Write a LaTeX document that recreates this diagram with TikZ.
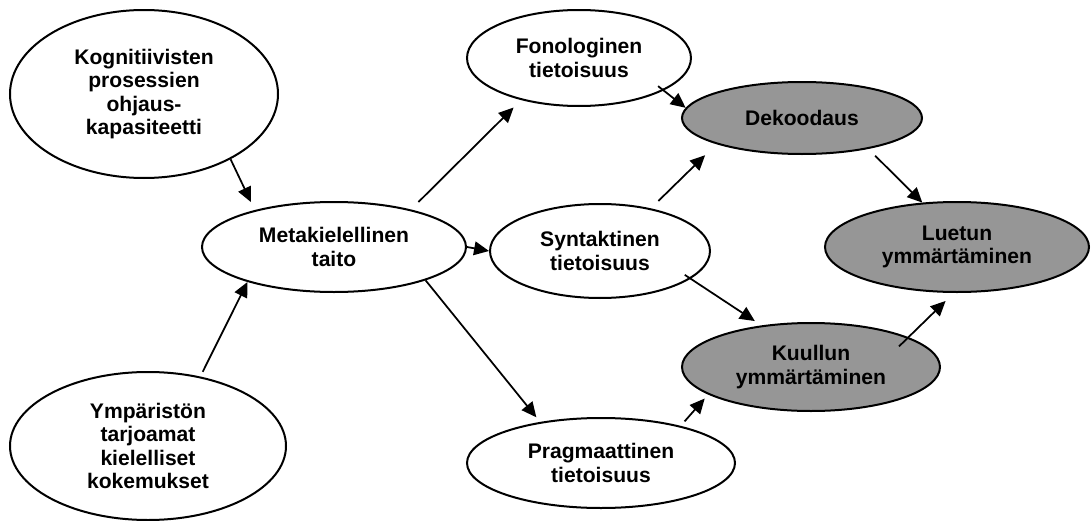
\documentclass[tikz,border=0pt]{standalone}
\usepackage{fontspec}
\setmainfont{Liberation Sans}
\usetikzlibrary{shapes.geometric, arrows.meta}
\definecolor{mygray}{RGB}{150,150,150}
\tikzstyle{concept} = [ellipse, draw=black, fill=white, align=center,
                       inner sep=0pt, line width=0.4mm,
                       font=\bfseries\fontsize{12}{13.3}\selectfont]
\tikzstyle{outcome} = [concept, fill=mygray]
\tikzstyle{arrow} = [line width=0.35mm, -{Triangle[length=8.5pt, width=7.8pt]}]

\begin{document}
\begin{tikzpicture}

        \useasboundingbox (0,0) rectangle (21.84,-10.42);

        \node (Kog) [concept, minimum width=5.36cm, minimum height=3.36cm, xshift=2.88cm, yshift=-1.88cm] {Kognitiivisten\\prosessien\\ohjaus-\\kapasiteetti};

        \node (Ymp) [concept, minimum width=5.52cm, minimum height=2.96cm, xshift=2.96cm, yshift=-8.92cm] {Ympäristön\\tarjoamat\\kielelliset\\kokemukset};

        \node (Meta) [concept, minimum width=5.28cm, minimum height=1.8cm, xshift=6.68cm, yshift=-4.94cm] {Metakielellinen\\taito};

        \node (Fono) [concept, minimum width=4.48cm, minimum height=1.92cm, xshift=11.58cm, yshift=-1.16cm] {Fonologinen\\tietoisuus};

        \node (Syn) [concept, minimum width=4.4cm, minimum height=1.88cm, xshift=12cm, yshift=-5.02cm] {Syntaktinen\\tietoisuus};

        \node (Prag) [concept, minimum width=5.36cm, minimum height=1.8cm, xshift=12.02cm, yshift=-9.26cm] {Pragmaattinen\\tietoisuus};

        \node (Dek) [outcome, minimum width=4.8cm, minimum height=1.44cm, xshift=16.04cm, yshift=-2.36cm] {Dekoodaus};

        \node (Kuul) [outcome, minimum width=5.16cm, minimum height=1.76cm, xshift=16.22cm, yshift=-7.34cm] {Kuullun\\ymmärtäminen};

        \node (Luet) [outcome, minimum width=5.28cm, minimum height=1.8cm, xshift=19.14cm, yshift=-4.94cm] {Luetun\\ymmärtäminen};


        \draw [arrow, shorten >=5pt] (Kog.-37) -- (Meta.155);
        \draw [arrow, shorten <=3pt] (Ymp.53) -- (Meta.202);
        \draw [arrow, shorten <=6pt, shorten >=6pt] (Meta.26) -- (Fono.-144);
        \draw [arrow] (Meta.east) -- (Syn.west);
        \draw [arrow, shorten >=3.4pt] (Meta.-20) -- (Prag.146);
        \draw [arrow, shorten <=-4pt] (Fono.-21) -- (Dek.175);
        \draw [arrow, shorten <=6pt, shorten >=9pt] (Syn.40) -- (Dek.-163);
        \draw [arrow, shorten <=-4pt, shorten >=4.5pt] (Syn.-17) -- (Kuul.140);
        \draw [arrow, shorten <=3.4pt, shorten >=3pt] (Prag.25) -- (Kuul.-165);
        \draw [arrow, shorten <=5.5pt] (Dek.-25) -- (Luet.128);
        \draw [arrow, shorten <=-7.5pt, shorten >=6.5pt] (Kuul.17) -- (Luet.-94);

\end{tikzpicture}
\end{document}
